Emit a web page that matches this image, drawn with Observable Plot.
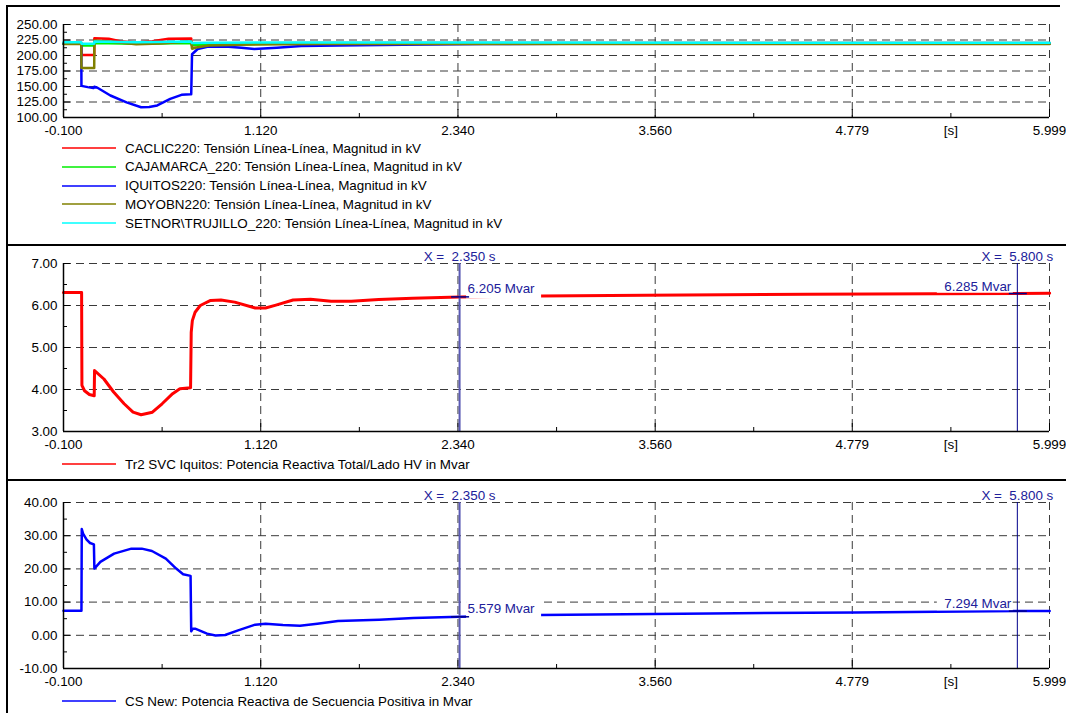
<!DOCTYPE html>
<html><head><meta charset="utf-8">
<script src="https://cdn.jsdelivr.net/npm/d3@7"></script>
<script src="https://cdn.jsdelivr.net/npm/@observablehq/plot@0.6"></script>
<style>
body{margin:0;background:#fff;}
#fig{position:relative;width:1066px;height:713px;overflow:hidden;font-family:"Liberation Sans",Arial,sans-serif;font-size:13.4px;color:#000;background:#fff;}
#fig svg.pl{position:absolute;left:0;}
.leg{position:absolute;left:62px;height:18px;display:flex;align-items:center;white-space:pre;font-size:13.4px;}
.leg svg{margin-right:9px;}
.frame{position:absolute;background:#000;}
</style></head><body><div id="fig"></div>
<script>
// ---------- shared x axis ----------
const xDomain = [-0.1, 5.999];
const xMajor = [-0.1, 1.12, 2.34, 3.56, 4.779, 5.999];
const xMinor = [0.51, 1.73, 2.95, 4.1695, 5.389];
const xLabelPos = [-0.1, 1.12, 2.34, 3.56, 4.779, 5.389, 5.999];
const xLabelText = ["-0.100", "1.120", "2.340", "3.560", "4.779", "[s]", "5.999"];

// ---------- panel 1: voltages (kV) ----------
const p1Ticks = [100, 125, 150, 175, 200, 225, 250];
const p1Minor = [112.5, 137.5, 162.5, 187.5, 212.5, 237.5];
const caclicT = [-0.1, 0.01, 0.011, 0.09, 0.091, 0.18, 0.25, 0.35, 0.45, 0.55, 0.69, 0.695, 0.75, 1.0, 1.5, 2.5, 6.0];
const caclicV = [220, 220, 201, 201, 228, 227, 223, 221, 223, 227, 227.5, 216, 218, 219.5, 220, 220, 220];
const cajaT = [-0.1, 0.01, 0.011, 0.09, 0.091, 0.35, 0.69, 0.695, 0.8, 1.2, 6.0];
const cajaV = [219, 219, 216, 216, 220, 219, 220, 217, 218, 219, 219.5];
const iquT = [-0.1, 0.01, 0.011, 0.05, 0.085, 0.09, 0.11, 0.19, 0.29, 0.38, 0.43, 0.48, 0.56, 0.63, 0.685, 0.69, 0.695, 0.73, 0.79, 0.9, 1.0, 1.08, 1.22, 1.37, 1.6, 2.0, 2.5, 3.0, 6.0];
const iquV = [219, 219, 151, 149, 147.5, 149.5, 148, 135.5, 124.5, 116.5, 117, 119.5, 130, 136.5, 137.5, 137.5, 202, 210.5, 214, 214.5, 212.5, 210.5, 212.5, 215.5, 216, 217.5, 218.5, 219, 219.5];
const moyT = [-0.1, 0.01, 0.011, 0.09, 0.091, 0.2, 0.35, 0.5, 0.65, 0.69, 0.695, 0.72, 0.8, 1.0, 1.5, 6.0];
const moyV = [218.5, 218.5, 180, 180, 224, 222, 218, 219.5, 222, 222.5, 211, 213, 216, 217.5, 218.5, 218.5];
const setT = [-0.1, 0.01, 0.011, 0.09, 0.091, 0.35, 0.69, 0.695, 0.8, 1.2, 6.0];
const setV = [221.5, 221.5, 219, 219, 222.5, 221.5, 222.5, 220, 220.5, 221, 220.5];

// ---------- panel 2: Tr2 SVC Iquitos (Mvar) ----------
const p2Ticks = [3, 4, 5, 6, 7];
const p2Minor = [3.5, 4.5, 5.5, 6.5];
const svcT = [-0.1, 0.012, 0.014, 0.03, 0.06, 0.09, 0.092, 0.15, 0.21, 0.275, 0.33, 0.38, 0.45, 0.51, 0.575, 0.62, 0.686, 0.69, 0.697, 0.714, 0.746, 0.81, 0.874, 0.959, 1.086, 1.15, 1.214, 1.32, 1.428, 1.555, 1.68, 1.85, 2.06, 2.35, 2.85, 3.5, 4.5, 5.3, 5.8, 6.0];
const svcV = [6.31, 6.31, 4.10, 3.97, 3.88, 3.85, 4.45, 4.25, 3.94, 3.66, 3.46, 3.40, 3.46, 3.66, 3.90, 4.02, 4.04, 5.36, 5.64, 5.84, 6.00, 6.12, 6.13, 6.08, 5.94, 5.94, 6.01, 6.13, 6.15, 6.10, 6.10, 6.14, 6.17, 6.205, 6.225, 6.245, 6.27, 6.28, 6.285, 6.29];
const svcCursorV = [6.205, 6.285];

// ---------- panel 3: CS New (Mvar) ----------
const p3Ticks = [-10, 0, 10, 20, 30, 40];
const p3Minor = [-5, 5, 15, 25, 35];
const csT = [-0.1, 0.011, 0.013, 0.021, 0.043, 0.064, 0.088, 0.091, 0.128, 0.213, 0.32, 0.384, 0.447, 0.533, 0.597, 0.64, 0.686, 0.69, 0.70, 0.714, 0.74, 0.788, 0.84, 0.9, 0.98, 1.086, 1.15, 1.257, 1.363, 1.47, 1.598, 1.853, 2.065, 2.35, 2.85, 3.9, 4.8, 5.8, 6.0];
const csV = [7.4, 7.4, 32.0, 30.6, 28.8, 27.8, 27.4, 20.1, 22.1, 24.6, 26.1, 26.1, 25.4, 23.1, 20.1, 18.4, 17.9, 1.2, 2.0, 2.0, 1.5, 0.5, -0.06, 0.1, 1.5, 3.2, 3.5, 3.1, 2.9, 3.5, 4.3, 4.7, 5.2, 5.579, 6.1, 6.6, 6.9, 7.294, 7.3];
const csCursorV = [5.579, 7.294];

const cursorT = [2.35, 5.8];

// ---------- legends ----------
const legend1 = [
  {label: "CACLIC220: Tensión Línea-Línea, Magnitud in kV", color: "#ff0000"},
  {label: "CAJAMARCA_220: Tensión Línea-Línea, Magnitud in kV", color: "#00ee00"},
  {label: "IQUITOS220: Tensión Línea-Línea, Magnitud in kV", color: "#0000ff"},
  {label: "MOYOBN220: Tensión Línea-Línea, Magnitud in kV", color: "#808000"},
  {label: "SETNOR\\TRUJILLO_220: Tensión Línea-Línea, Magnitud in kV", color: "#00ffff"}
];
const legend2 = [{label: "Tr2 SVC Iquitos: Potencia Reactiva Total/Lado HV in Mvar", color: "#ff0000"}];
const legend3 = [{label: "CS New: Potencia Reactiva de Secuencia Positiva in Mvar", color: "#0000ff"}];

const NAVY = "#00008b", SLATE = "#5a5ab4", LABEL = "#20209a";

function rows(t, v) { return t.map((tt, i) => ({t: tt, v: v[i]})); }

function makePanel(cfg) {
  const {height, mt, mb, yDomain, yTicks, yMinor, lines, cursorVals} = cfg;
  const ml = 63, mr = 17;
  const pw = 1066 - ml - mr, ph = height - mt - mb;
  const ux = (xDomain[1] - xDomain[0]) / pw, uy = (yDomain[1] - yDomain[0]) / ph;
  const x0 = xDomain[0], y0 = yDomain[0];
  const dash = {stroke: "#3a3a3a", strokeWidth: 1, strokeDasharray: "8,5"};
  const marks = [
    Plot.ruleY(yTicks.filter(v => v !== y0), {y: d => d, ...dash}),
    Plot.ruleX(xMajor.filter(v => v !== x0), {x: d => d, ...dash}),
    Plot.ruleX(xMajor, {x: d => d, y1: y0, y2: y0 + 8 * uy, stroke: "#000"}),
    Plot.ruleX(xMinor, {x: d => d, y1: y0, y2: y0 + 4 * uy, stroke: "#000"}),
    Plot.ruleY(yTicks, {y: d => d, x1: x0, x2: x0 + 7 * ux, stroke: "#000"}),
    Plot.ruleY(yMinor, {y: d => d, x1: x0, x2: x0 + 4 * ux, stroke: "#000"}),
  ];
  for (const L of lines) {
    marks.push(Plot.line(rows(L.t, L.v), {x: "t", y: "v", stroke: L.color, strokeWidth: L.w || 2.5, strokeLinejoin: "round"}));
  }
  if (cursorVals) {
    const [ta, tb] = cursorT, [va, vb] = cursorVals;
    marks.push(
      Plot.rect([0], {x1: ta + 7 * ux, x2: ta + 82 * ux, y1: va - 2 * uy, y2: va + 16 * uy, fill: "#fff"}),
      Plot.rect([0], {x1: tb - 80 * ux, x2: tb - 4 * ux, y1: vb + 0.3 * uy, y2: vb + 16 * uy, fill: "#fff"}),
      Plot.ruleX([ta], {x: d => d, stroke: SLATE, strokeWidth: 2}),
      Plot.ruleX([tb], {x: d => d, stroke: NAVY, strokeWidth: 1}),
      Plot.ruleY([va], {y: d => d, x1: ta - 8 * ux, x2: ta + 10 * ux, stroke: NAVY, strokeWidth: 1.5}),
      Plot.ruleY([vb], {y: d => d, x1: tb - 8 * ux, x2: tb + 10 * ux, stroke: NAVY, strokeWidth: 1.5}),
      Plot.text(cursorT, {x: d => d, frameAnchor: "top", lineAnchor: "bottom", dy: -3, text: d => "X = \u00a0" + d.toFixed(3) + " s", fill: LABEL, fontSize: 13.4}),
      Plot.text([0], {x: () => ta, y: () => va, dx: 8, dy: -8, textAnchor: "start", text: () => va.toFixed(3) + " Mvar", fill: LABEL, fontSize: 13.4}),
      Plot.text([0], {x: () => tb, y: () => vb, dx: -6, dy: -7, textAnchor: "end", text: () => vb.toFixed(3) + " Mvar", fill: LABEL, fontSize: 13.4})
    );
  }
  marks.push(
    Plot.ruleX([x0], {x: d => d, stroke: "#000", strokeWidth: 1.5}),
    Plot.ruleY([y0], {y: d => d, stroke: "#000", strokeWidth: 1.5}),
    Plot.axisX({ticks: xLabelPos, tickFormat: d => xLabelText[xLabelPos.indexOf(d)], tickSize: 0, tickPadding: 8, label: null, fontSize: 13.4}),
    Plot.axisY({ticks: yTicks, tickFormat: d => d.toFixed(2), tickSize: 0, tickPadding: 6, label: null, fontSize: 13.4})
  );
  const svg = Plot.plot({
    width: 1066, height, marginLeft: ml, marginRight: mr, marginTop: mt, marginBottom: mb,
    x: {domain: xDomain},
    y: {domain: yDomain},
    style: {fontFamily: "'Liberation Sans', Arial, sans-serif", fontSize: "13.4px", color: "#000", background: "transparent", overflow: "visible"},
    marks
  });
  svg.classList.add("pl");
  svg.style.top = cfg.top + "px";
  return svg;
}

function addLegend(fig, items, top) {
  items.forEach((it, i) => {
    const d = document.createElement("div");
    d.className = "leg";
    d.style.top = (top + i * 18.8 - 9) + "px";
    d.innerHTML = `<svg width="54" height="4"><line x1="0" x2="54" y1="2" y2="2" stroke="${it.color}" stroke-width="1.6"/></svg>`;
    const s = document.createElement("span");
    s.textContent = it.label;
    d.appendChild(s);
    fig.appendChild(d);
  });
}

const fig = document.getElementById("fig");
fig.appendChild(makePanel({top: 0, height: 140, mt: 24, mb: 23, yDomain: [100, 250], yTicks: p1Ticks, yMinor: p1Minor,
  lines: [
    {t: caclicT, v: caclicV, color: "#ff0000"},
    {t: cajaT, v: cajaV, color: "#00ee00"},
    {t: iquT, v: iquV, color: "#0000ff"},
    {t: moyT, v: moyV, color: "#808000"},
    {t: setT, v: setV, color: "#00ffff"}
  ]}));
fig.appendChild(makePanel({top: 244, height: 210, mt: 19, mb: 23, yDomain: [3, 7], yTicks: p2Ticks, yMinor: p2Minor,
  lines: [{t: svcT, v: svcV, color: "#ff0000", w: 3}], cursorVals: svcCursorV}));
fig.appendChild(makePanel({top: 479, height: 210, mt: 23, mb: 21, yDomain: [-10, 40], yTicks: p3Ticks, yMinor: p3Minor,
  lines: [{t: csT, v: csV, color: "#0000ff", w: 2.5}], cursorVals: csCursorV}));

addLegend(fig, legend1, 148);
addLegend(fig, legend2, 464);
addLegend(fig, legend3, 701);

// frame lines
[[7, 5, 1053, 2], [7, 244, 1059, 1.5], [7, 479, 1059, 1.5], [6, 5, 1.5, 708]].forEach(([l, t, w, h]) => {
  const f = document.createElement("div");
  f.className = "frame";
  Object.assign(f.style, {left: l + "px", top: t + "px", width: w + "px", height: h + "px"});
  fig.appendChild(f);
});
</script></body></html>
